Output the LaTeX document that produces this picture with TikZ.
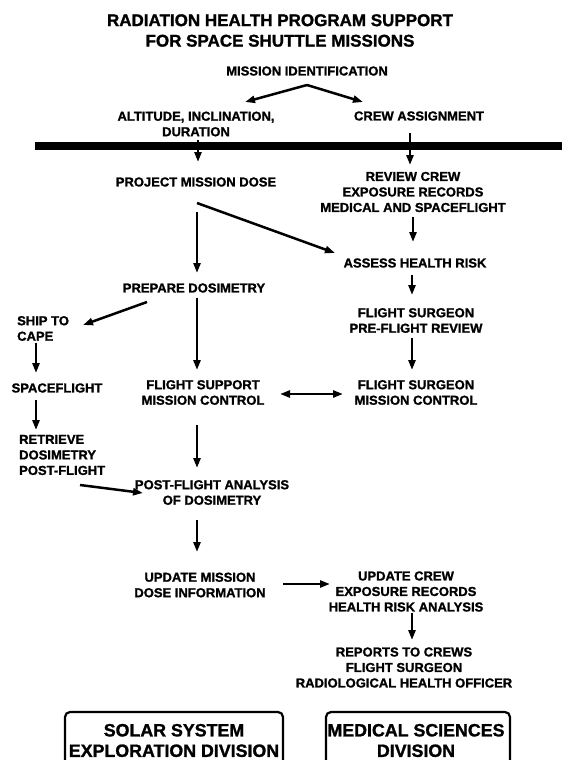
\documentclass[tikz,border=0pt]{standalone}
\usepackage{fontspec}
\setmainfont{Liberation Sans}
\newfontfamily\hv{Liberation Sans Bold}[FakeBold=1.3]
\usetikzlibrary{arrows.meta,calc}
\begin{document}
\begin{tikzpicture}[x=1pt,y=-1pt,
  lab/.style={font=\hv\fontsize{13}{15.5}\selectfont, align=center, inner sep=0pt},
  big/.style={font=\hv\fontsize{17}{20.5}\selectfont, align=center, inner sep=0pt},
  arr/.style={line width=2.5pt, -{Triangle[length=10pt,width=7pt]}},
  darr/.style={line width=2.5pt, {Triangle[length=10pt,width=7pt]}-{Triangle[length=10pt,width=7pt]}},
  divbox/.style={line width=2.2pt, rounded corners=5pt},
]
\useasboundingbox (0,0) rectangle (562,760);
\node[big] (title) at (280,30.5) {RADIATION HEALTH PROGRAM SUPPORT\\FOR SPACE SHUTTLE MISSIONS};
\node[lab] (mid) at (307,71) {MISSION IDENTIFICATION};
\node[lab] (alt) at (196,124) {ALTITUDE, INCLINATION,\\DURATION};
\node[lab] (crew) at (419,116) {CREW ASSIGNMENT};
\node[lab] (pmd) at (196,182) {PROJECT MISSION DOSE};
\node[lab] (review) at (413,192) {REVIEW CREW\\EXPOSURE RECORDS\\MEDICAL AND SPACEFLIGHT};
\node[lab] (assess) at (415,263) {ASSESS HEALTH RISK};
\node[lab] (prep) at (194,288) {PREPARE DOSIMETRY};
\node[lab] (fsr) at (416,320.5) {FLIGHT SURGEON\\PRE-FLIGHT REVIEW};
\node[lab, align=left, anchor=west] (ship) at (17,328.5) {SHIP TO\\CAPE};
\node[lab] (sf) at (57,388) {SPACEFLIGHT};
\node[lab] (fsmc) at (203,392.5) {FLIGHT SUPPORT\\MISSION CONTROL};
\node[lab] (fsurg) at (416,392.5) {FLIGHT SURGEON\\MISSION CONTROL};
\node[lab, align=left, anchor=west] (ret) at (19,455) {RETRIEVE\\DOSIMETRY\\POST-FLIGHT};
\node[lab] (pfa) at (212,492.5) {POST-FLIGHT ANALYSIS\\OF DOSIMETRY};
\node[lab] (umd) at (200,585) {UPDATE MISSION\\DOSE INFORMATION};
\node[lab] (ucrew) at (406,591.5) {UPDATE CREW\\EXPOSURE RECORDS\\HEALTH RISK ANALYSIS};
\node[lab] (rep) at (404,667.5) {REPORTS TO CREWS\\FLIGHT SURGEON\\RADIOLOGICAL HEALTH OFFICER};
\node[big, font=\hv\fontsize{17.8}{20.5}\selectfont] (sse) at (174,740.5) {SOLAR SYSTEM\\EXPLORATION DIVISION};
\node[big, font=\hv\fontsize{17.8}{20.5}\selectfont] (msd) at (416,740.5) {MEDICAL SCIENCES\\DIVISION};
\begin{scope}
\clip (0,0) rectangle (562,760);
\draw[divbox] (65,712) rectangle (283,790);
\draw[divbox] (326,712) rectangle (510,790);
\end{scope}
\draw[line width=8pt] (35,146) -- (562,146);
\draw[arr] ($(mid)+(0,14)$) -- ($(alt)+(49,-22)$);
\draw[arr] ($(mid)+(0,14)$) -- ($(crew)+(-56,-14)$);
\draw[arr] ($(alt)+(2,16)$) -- ($(pmd)+(2,-20)$);
\draw[arr] ($(crew)+(-9,17)$) -- ($(review)+(-3,-27)$);
\draw[arr] ($(pmd)+(1,21)$) -- ($(assess)+(-80,-10)$);
\draw[arr] ($(pmd)+(1,30)$) -- ($(prep)+(3,-15)$);
\draw[arr] ($(review)+(0,25)$) -- ($(assess)+(-2,-21)$);
\draw[arr] ($(assess)+(-3,12)$) -- ($(fsr)+(-4,-25.5)$);
\draw[arr] ($(prep)+(-47,14)$) -- ($(ship.west)+(66,-3.5)$);
\draw[arr] ($(prep)+(3,10)$) -- ($(fsmc)+(-6,-22.5)$);
\draw[arr] ($(fsr)+(-4,17.5)$) -- ($(fsurg)+(-4,-22.5)$);
\draw[arr] ($(ship.west)+(19,14.5)$) -- ($(sf)+(-21,-15)$);
\draw[darr] ($(fsmc)+(77,1.5)$) -- ($(fsurg)+(-73,1.5)$);
\draw[arr] ($(sf)+(-21,12)$) -- ($(ret.west)+(17,-25)$);
\draw[arr] ($(fsmc)+(-6,32.5)$) -- ($(pfa)+(-15,-24.5)$);
\draw[arr] ($(ret.west)+(61,30)$) -- ($(pfa)+(-69,0.5)$);
\draw[arr] ($(pfa)+(-15,27.5)$) -- ($(umd)+(-3,-33)$);
\draw[arr] ($(umd)+(83,-1)$) -- ($(ucrew)+(-76,-7.5)$);
\draw[arr] ($(ucrew)+(6,21.5)$) -- ($(rep)+(8,-27.5)$);
\end{tikzpicture}
\end{document}
